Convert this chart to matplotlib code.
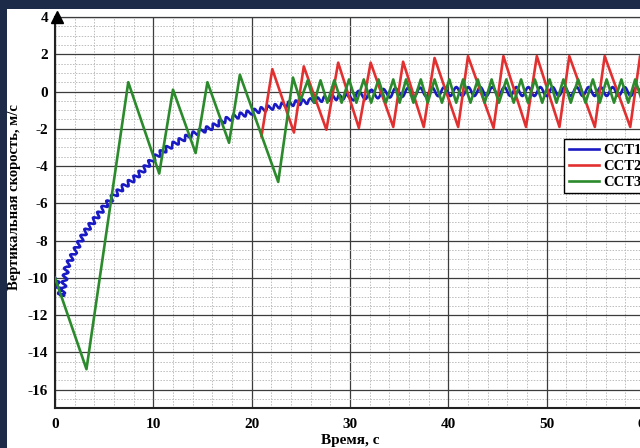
import matplotlib
matplotlib.use("Agg")
import matplotlib.pyplot as plt
from matplotlib.ticker import MultipleLocator
from matplotlib.patches import Rectangle
from matplotlib.lines import Line2D

#===============================================
RUTA_GUARDADO = "out.png"
#===============================================

# ССТ1: тренд скорости (пульсации рисуются эффектом sketch)
t_cct1 = [0.0, 0.7, 1.2, 2.0, 3.0, 4.0, 5.0, 6.0, 7.0, 8.0, 9.0, 10.0, 11.0, 12.0,
          13.0, 14.0, 15.0, 16.0, 17.0, 18.0, 19.0, 20.0, 22.0, 24.0, 26.0, 28.0, 30.0]
v_cct1 = [-10.0, -11.0, -9.4, -8.6, -7.6, -6.9, -6.2, -5.6, -5.1, -4.7, -4.2, -3.6, -3.2, -2.85,
          -2.55, -2.3, -2.1, -1.9, -1.6, -1.4, -1.25, -1.1, -0.85, -0.65, -0.5, -0.35, -0.25]
t_cct1_ust = [30.0, 32.0, 35.0, 40.0, 50.0, 61.0]
v_cct1_ust = [-0.25, -0.15, -0.05, 0.0, 0.0, 0.0]

# ССТ2
t_cct2 = [21.0, 22.1, 24.3, 25.3, 27.6, 28.8, 30.9, 32.1, 34.4, 35.4, 37.5, 38.6, 41.0, 42.0,
          44.6, 45.6, 47.9, 49.0, 51.3, 52.3, 54.9, 55.9, 58.5, 59.5, 61.8]
v_cct2 = [-2.4, 1.2, -2.2, 1.35, -2.05, 1.55, -1.95, 1.55, -1.9, 1.6, -1.9, 1.8, -1.9, 1.9,
          -1.95, 1.9, -1.9, 1.9, -1.9, 1.9, -1.9, 1.9, -1.9, 1.9, -1.9]

# ССТ3
t_cct3 = [0.0, 3.2, 7.45, 10.6, 12.0, 14.3, 15.5, 17.7, 18.8, 22.7,
          24.2, 24.95, 25.7, 26.35, 27.0, 27.7, 28.4, 29.15, 29.9, 30.65, 31.4, 32.15, 32.9,
          33.65, 34.4, 35.05, 35.7, 36.45, 37.2, 37.9, 38.6, 39.35, 40.1, 40.8, 41.5, 42.25,
          43.0, 43.7, 44.4, 45.15, 45.9, 46.65, 47.4, 48.1, 48.8, 49.55, 50.3, 51.0, 51.7,
          52.45, 53.2, 53.95, 54.7, 55.4, 56.1, 56.85, 57.6, 58.3, 59.0, 59.75, 60.5]
v_cct3 = [-10.0, -14.9, 0.5, -4.4, 0.1, -3.3, 0.5, -2.75, 0.9, -4.85,
          0.75, -0.5, 0.6, -0.6, 0.6, -0.6, 0.6, -0.6, 0.65, -0.6, 0.65, -0.6, 0.65,
          -0.6, 0.65, -0.6, 0.65, -0.6, 0.65, -0.6, 0.65, -0.6, 0.65, -0.6, 0.65, -0.6,
          0.65, -0.6, 0.65, -0.6, 0.65, -0.6, 0.65, -0.6, 0.65, -0.6, 0.65, -0.6, 0.65,
          -0.6, 0.65, -0.6, 0.65, -0.6, 0.65, -0.6, 0.65, -0.6, 0.65, -0.6, 0.65]

x_ticks = [0, 10, 20, 30, 40, 50, 60]
y_ticks = [-16, -14, -12, -10, -8, -6, -4, -2, 0, 2, 4]
nombres = ["CCT1", "CCT2", "CCT3"]
colores = ["#1a1ac4", "#e23030", "#2b8a2b"]


def plot_chart():
    plt.rcParams['font.family'] = ['Liberation Serif', 'DejaVu Serif']
    plt.rcParams['font.weight'] = 'bold'
    plt.rcParams['axes.unicode_minus'] = False

    fig = plt.figure(figsize=(6.4, 4.48), dpi=100)
    fig.patch.set_facecolor('#1c2b47')
    # белая подложка слайда
    fig.patches.append(Rectangle((7 / 640, 0), 1, 1 - 9 / 448, transform=fig.transFigure,
                                 facecolor='white', edgecolor='none', zorder=-10))

    ax = fig.add_axes([55 / 640, (448 - 408.3) / 448, 590 / 640, 391.3 / 448])
    ax.set_facecolor('white')

    lw = 1.9
    l1, = ax.plot(t_cct1, v_cct1, color=colores[0], lw=lw, zorder=3,
                  solid_joinstyle='round')
    l1.set_sketch_params(2.6, 7.0, 1.0)
    l1b, = ax.plot(t_cct1_ust, v_cct1_ust, color=colores[0], lw=lw, zorder=3)
    l1b.set_sketch_params(4.5, 12.0, 1.0)
    ax.plot(t_cct2, v_cct2, color=colores[1], lw=lw, zorder=3)
    ax.plot(t_cct3, v_cct3, color=colores[2], lw=lw, zorder=3,
            solid_joinstyle='round')

    ax.set_xlim(0, 60)
    ax.set_ylim(-17, 4)
    ax.set_xticks(x_ticks)
    ax.set_yticks(y_ticks)
    ax.xaxis.set_minor_locator(MultipleLocator(2))
    ax.yaxis.set_minor_locator(MultipleLocator(0.5))
    ax.grid(which='major', color='#3c3c3c', lw=0.9, ls='-')
    ax.grid(which='minor', color='#bcbcbc', lw=0.7, ls=(0, (1.5, 1.5)))
    ax.set_axisbelow(True)
    ax.tick_params(which='both', length=0, labelsize=11)
    ax.tick_params(axis='x', pad=7)
    ax.tick_params(axis='y', pad=5)

    for s in ['left', 'bottom']:
        ax.spines[s].set_linewidth(1.5)
        ax.spines[s].set_color('#222222')
    ax.spines['top'].set_linewidth(0.9)
    ax.spines['top'].set_color('#3c3c3c')

    # стрелка оси
    ax.plot([0.004], [1.0], marker='^', markersize=9, color='black',
            transform=ax.transAxes, clip_on=False, zorder=5)

    ax.set_xlabel('Время, с', fontsize=11, fontweight='bold')
    ax.xaxis.set_label_coords(0.5, -0.066)
    ax.set_ylabel('Вертикальная скорость, м/с', fontsize=10.5, fontweight='bold')
    ax.yaxis.set_label_coords(-0.058, 0.54)

    # легенда с прямыми линиями
    handles = [Line2D([], [], color=c, lw=lw) for c in colores]
    leg = ax.legend(handles, nombres, loc='upper left', bbox_to_anchor=(0.863, 0.688),
                    borderaxespad=0, fancybox=False, edgecolor='black', framealpha=1,
                    fontsize=10.5, handlelength=2.1, handletextpad=0.25, borderpad=0.3,
                    labelspacing=0.2)
    leg.get_frame().set_linewidth(1.0)
    leg.set_zorder(10)

    plt.savefig(RUTA_GUARDADO, dpi=100, facecolor=fig.get_facecolor())
    plt.close()


if __name__ == "__main__":
    plot_chart()
